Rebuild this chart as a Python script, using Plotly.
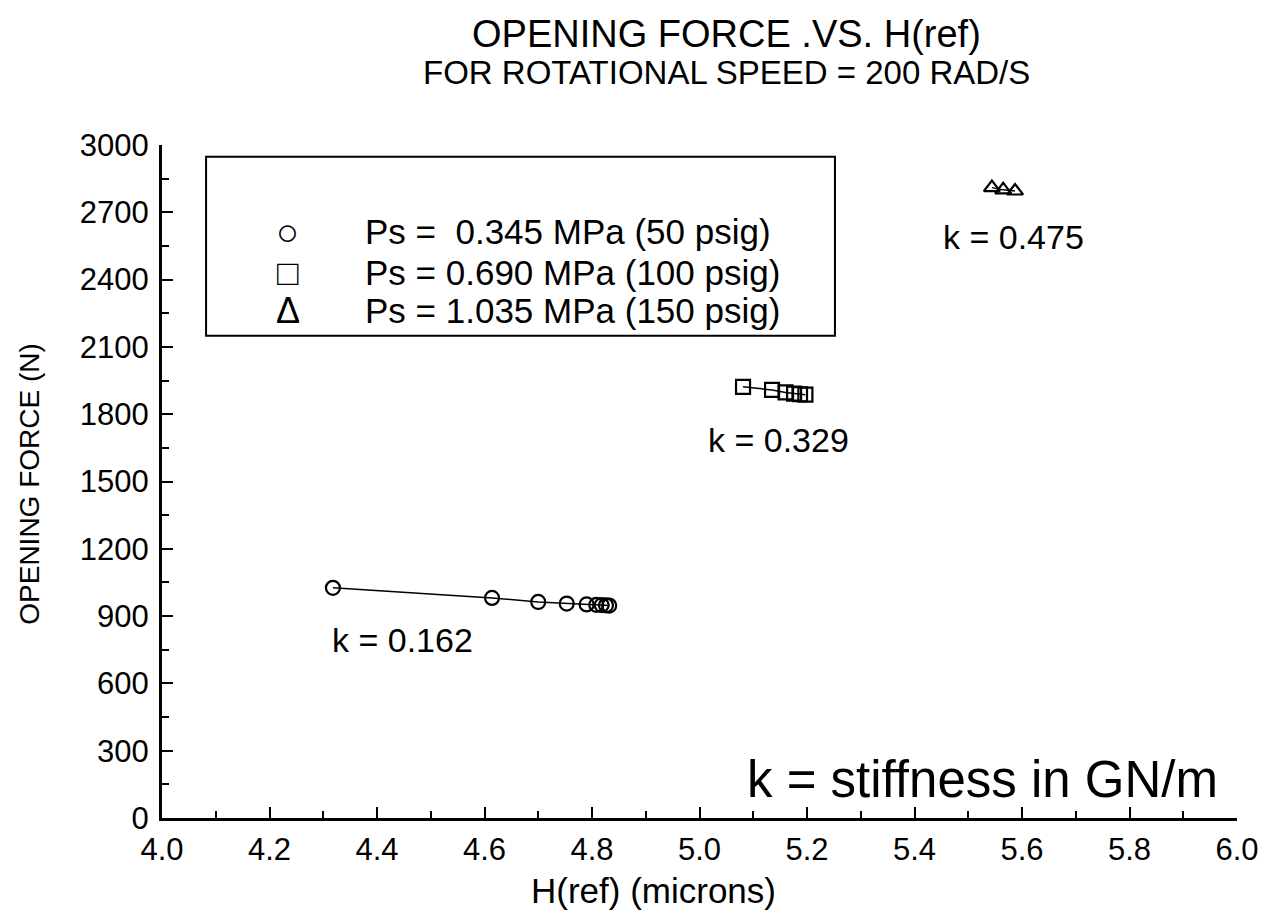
import plotly.graph_objects as go

# Measured reference film height H(ref) in microns and the opening force in N
h_50 = [4.318, 4.614, 4.700, 4.753, 4.790, 4.808, 4.818, 4.826, 4.832]
f_50 = [1026, 981, 963, 956, 952, 950, 949, 948, 947]

h_100 = [5.081, 5.135, 5.160, 5.176, 5.187, 5.197]
f_100 = [1922, 1908, 1897, 1892, 1889, 1887]

h_150 = [5.544, 5.565, 5.587]
f_150 = [2810, 2800, 2795]

legend_labels = [
    "Ps =  0.345 MPa (50 psig)",
    "Ps = 0.690 MPa (100 psig)",
    "Ps = 1.035 MPa (150 psig)",
]
legend_symbols = ["\u25cb", "\u25a1", "\u0394"]
legend_symbol_sizes = [38, 36, 36]

stiffness_labels = ["k = 0.162", "k = 0.329", "k = 0.475"]
# label anchor points (data coordinates, left edge / vertical centre)
stiffness_pos = [(4.312, 794), (5.012, 1686), (5.45, 2591)]

BASE = "Liberation Sans, sans-serif"

fig = go.Figure()

series = [
    (h_50, f_50, "circle-open"),
    (h_100, f_100, "square-open"),
    (h_150, f_150, "triangle-up-open"),
]
for xs, ys, sym in series:
    fig.add_trace(go.Scatter(
        x=xs, y=ys, mode="lines+markers",
        line=dict(color="black", width=1.5),
        marker=dict(symbol=sym, size=14, color="black", line=dict(width=2.2, color="black")),
        showlegend=False,
    ))

# stiffness annotations
for txt, (xx, yy) in zip(stiffness_labels, stiffness_pos):
    fig.add_annotation(x=xx, y=yy, text=txt, showarrow=False, xanchor="left",
                       yanchor="middle", font=dict(family=BASE, size=34, color="black"))

fig.add_annotation(x=5.085, y=170, text="k = stiffness in GN/m", showarrow=False,
                   xanchor="left", yanchor="middle",
                   font=dict(family=BASE, size=51, color="black"))

# legend box
fig.add_shape(type="rect", xref="x", yref="y", x0=4.082, x1=5.252, y0=2150, y1=2948,
              line=dict(color="black", width=2), fillcolor="rgba(0,0,0,0)")
for sym, ssz, lab, yy in zip(legend_symbols, legend_symbol_sizes, legend_labels,
                             [2614, 2431, 2261]):
    fig.add_annotation(x=4.234, y=yy, text=sym, showarrow=False, xanchor="center",
                       yanchor="middle", font=dict(family=BASE, size=ssz, color="black"))
    fig.add_annotation(x=4.374, y=yy, text=lab, showarrow=False, xanchor="left",
                       yanchor="middle", font=dict(family=BASE, size=35, color="black"))

fig.update_layout(
    width=1270, height=913,
    margin=dict(l=162, r=33, t=145, b=95),
    paper_bgcolor="white", plot_bgcolor="white",
    showlegend=False,
    font=dict(family=BASE, color="black"),
)

# two-line title
fig.add_annotation(xref="x", yref="paper", x=5.05, y=1, yshift=111,
                   text="OPENING FORCE .VS. H(ref)", showarrow=False,
                   xanchor="center", yanchor="middle",
                   font=dict(family=BASE, size=38, color="black"))
fig.add_annotation(xref="x", yref="paper", x=5.05, y=1, yshift=73,
                   text="FOR ROTATIONAL SPEED = 200 RAD/S", showarrow=False,
                   xanchor="center", yanchor="middle",
                   font=dict(family=BASE, size=33, color="black"))

# axis titles
fig.add_annotation(xref="x", yref="paper", x=4.915, y=0, yshift=-72,
                   text="H(ref) (microns)", showarrow=False,
                   xanchor="center", yanchor="middle",
                   font=dict(family=BASE, size=35, color="black"))
fig.add_annotation(xref="paper", yref="y", x=0, xshift=-132, y=1490,
                   text="OPENING FORCE (N)", showarrow=False, textangle=-90,
                   xanchor="center", yanchor="middle",
                   font=dict(family=BASE, size=28, color="black"))

fig.update_xaxes(
    range=[4.0, 6.0], tickmode="linear", tick0=4.0, dtick=0.2, tickformat=".1f",
    ticks="inside", ticklen=11, tickwidth=2, tickcolor="black",
    minor=dict(dtick=0.1, ticks="inside", ticklen=7, tickwidth=2, tickcolor="black"),
    showline=True, linecolor="black", linewidth=3, showgrid=False, zeroline=False,
    tickfont=dict(family=BASE, size=31, color="black"), ticklabelstandoff=2,
)
fig.update_yaxes(
    range=[0, 3000], tickmode="linear", tick0=0, dtick=300,
    ticks="inside", ticklen=11, tickwidth=2, tickcolor="black",
    minor=dict(dtick=150, ticks="inside", ticklen=7, tickwidth=2, tickcolor="black"),
    showline=True, linecolor="black", linewidth=3, showgrid=False, zeroline=False,
    tickfont=dict(family=BASE, size=31, color="black"), ticklabelstandoff=4,
)

fig.write_html("out.html")
